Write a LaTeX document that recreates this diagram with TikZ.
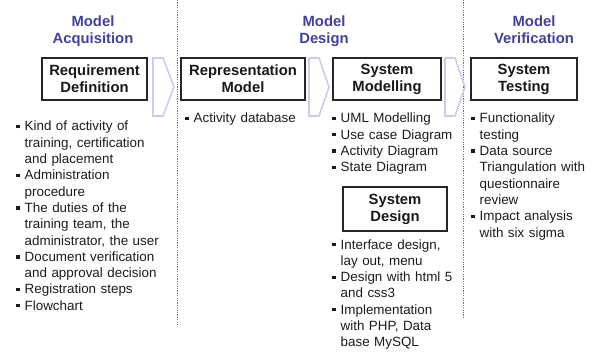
\documentclass[tikz,border=0pt]{standalone}
\usepackage{fontspec}
\setmainfont{Liberation Sans}
\definecolor{hdrblue}{RGB}{66,66,156}
\definecolor{chevcol}{RGB}{204,204,236}
\definecolor{txtcol}{RGB}{28,28,28}
\newcommand{\bmark}{\makebox[8.5pt][l]{\raisebox{2.8pt}{\rule{3.3pt}{3.3pt}}}}
\newcommand{\bz}{\noindent\bmark}
\newcommand{\bi}{\par\noindent\bmark}
\newcommand{\cl}{\par\noindent\hspace*{8.5pt}}
\tikzset{
  hdrnode/.style={text=hdrblue, font=\fontsize{14.8}{17}\selectfont\bfseries, align=center, text width=130pt, inner sep=0pt, anchor=base},
  titlebox/.style={draw=black!85, line width=1.1pt, font=\fontsize{14.8}{17}\selectfont\bfseries, align=center, inner sep=0pt, text=black!90},
  blist/.style={font=\fontsize{13.4}{16.3}\selectfont, text=txtcol, text width=160pt, align=left, inner sep=0pt, anchor=base west},
  chevron/.style={draw=chevcol, line width=1.6pt, line join=miter},
  divider/.style={draw=black!55, line width=0.9pt, dash pattern=on 1.3pt off 1.1pt},
}
\begin{document}
\begin{tikzpicture}[x=1pt,y=-1pt]
\useasboundingbox[fill=white] (0,0) rectangle (596,355);

% dividers
\coordinate (d1top) at (177,0);
\coordinate (d1bot) at (177,326);
\coordinate (d2top) at (463,0);
\coordinate (d2bot) at (463,318);
\draw[divider] (d1top) -- (d1bot);
\draw[divider] (d2top) -- (d2bot);

% headers
\node[hdrnode] (hacq) at (93,27) {Model\\Acquisition};
\node[hdrnode] (hdes) at (324,27) {Model\\Design};
\node[hdrnode] (hver) at (534,27) {Model\\Verification};

% chevrons
\draw[chevron] (153,58) -- (163,58) -- (174,87) -- (163,116) -- (153,116) -- cycle;
\draw[chevron] (309,58) -- (319,58) -- (329,87) -- (319,116) -- (309,116) -- cycle;
\draw[chevron] (445,58) -- (455,58) -- (465,87) -- (455,116) -- (445,116) -- cycle;

% title boxes
\node[titlebox, minimum width=105pt, minimum height=42pt] (req) at (94.5,79) {Requirement\\Definition};
\node[titlebox, minimum width=124pt, minimum height=42pt] (rep) at (243,79) {Representation\\Model};
\node[titlebox, minimum width=108pt, minimum height=42pt] (smod) at (387,79) {System\\Modelling};
\node[titlebox, minimum width=106pt, minimum height=42pt] (stest) at (524,79) {System\\Testing};
\node[titlebox, minimum width=104pt, minimum height=44pt] (sdes) at (395,209) {System\\Design};

% bullet lists
\node[blist] (reqlist) at (16,131) {\bz Kind of activity of\cl training, certification\cl and placement\bi Administration\cl procedure\bi The duties of the\cl training team, the\cl administrator, the user\bi Document verification\cl and approval decision\bi Registration steps\bi Flowchart};
\node[blist] (replist) at (185,123) {\bz Activity database};
\node[blist] (smodlist) at (332,123) {\bz UML Modelling\bi Use case Diagram\bi Activity Diagram\bi State Diagram};
\node[blist] (sdeslist) at (332,249) {\bz Interface design,\cl lay out, menu\bi Design with html 5\cl and css3\bi Implementation\cl with PHP, Data\cl base MySQL};
\node[blist] (stestlist) at (471,123) {\bz Functionality\cl testing\bi Data source\cl Triangulation with\cl questionnaire\cl review\bi Impact analysis\cl with six sigma};
\end{tikzpicture}
\end{document}
